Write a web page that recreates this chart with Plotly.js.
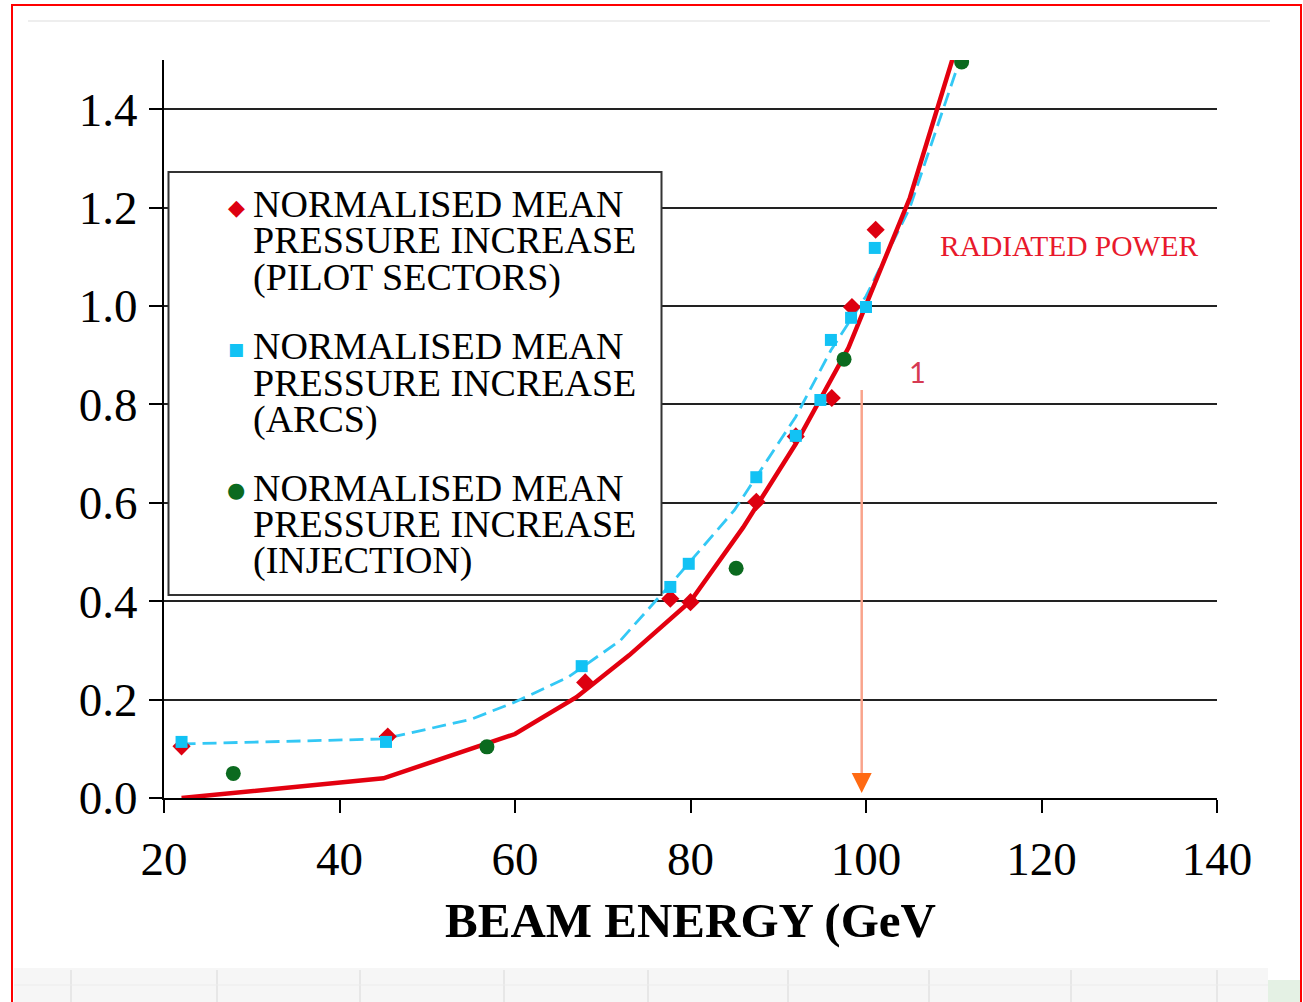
<!DOCTYPE html>
<html>
<head>
<meta charset="utf-8">
<script src="https://cdn.plot.ly/plotly-3.0.1.min.js"></script>
<style>
html,body{margin:0;padding:0;background:#fff;}
#chart{width:1303px;height:1002px;}
</style>
</head>
<body>
<div id="chart"></div>
<script>
// ---------- data ----------
const energyPilot = [22, 45.5, 68, 77.7, 80, 87.5, 92, 96.1, 98.4, 101.1];
const pressPilot  = [0.105, 0.125, 0.235, 0.405, 0.398, 0.602, 0.735, 0.813, 0.998, 1.155];

const energyArcs = [22, 45.3, 67.6, 77.7, 79.8, 87.5, 92, 94.8, 96, 98.3, 100, 101];
const pressArcs  = [0.114, 0.114, 0.268, 0.429, 0.476, 0.652, 0.736, 0.809, 0.931, 0.976, 0.998, 1.118];

const energyInj = [27.9, 56.8, 85.2, 97.5, 110.9];
const pressInj  = [0.05, 0.104, 0.467, 0.892, 1.496];

const energyRad = [22, 45, 60, 67, 73, 80, 86, 92, 98, 105, 110];
const powerRad  = [0.0, 0.04, 0.13, 0.205, 0.29, 0.40, 0.55, 0.72, 0.915, 1.22, 1.51];

const energyFit = [22, 45, 55, 60, 66, 72, 78, 85, 92, 96, 100, 105, 110.5];
const pressFit  = [0.11, 0.12, 0.16, 0.195, 0.245, 0.32, 0.44, 0.585, 0.775, 0.91, 1.02, 1.2, 1.49];

const xTicks = [20, 40, 60, 80, 100, 120, 140];
const xTickLabels = ['20', '40', '60', '80', '100', '120', '140'];
const yTicks = [0, 0.2, 0.4, 0.6, 0.8, 1.0, 1.2, 1.4];
const yTickLabels = ['0.0', '0.2', '0.4', '0.6', '0.8', '1.0', '1.2', '1.4'];

const legendLabels = [
  ['NORMALISED MEAN', 'PRESSURE INCREASE', '(PILOT SECTORS)'],
  ['NORMALISED MEAN', 'PRESSURE INCREASE', '(ARCS)'],
  ['NORMALISED MEAN', 'PRESSURE INCREASE', '(INJECTION)']
];
const radiatedLabel = 'RADIATED POWER';
const xTitle = 'BEAM ENERGY (GeV';

// ---------- layout helpers (pixel -> paper) ----------
const W = 1303, H = 1002;
const L = 164, R = 86, T = 60, B = 204;
const PW = W - L - R, PH = H - T - B;
const px = x => (x - L) / PW;
const py = y => (H - B - y) / PH;

const SERIF = 'Liberation Serif, Times New Roman, serif';

const RED = '#e3000f';
const CYAN = '#12c2f4';
const GREEN = '#0b6a1f';

const traces = [
  {x: energyFit, y: pressFit, mode: 'lines', name: 'fit (arcs)',
   line: {color: '#33c8f5', width: 2.8, dash: '14px,7px'}, hoverinfo: 'skip'},
  {x: energyRad, y: powerRad, mode: 'lines', name: radiatedLabel,
   line: {color: RED, width: 4.5}},
  {x: energyPilot, y: pressPilot, mode: 'markers', name: legendLabels[0].join(' '),
   marker: {symbol: 'diamond', size: 14, color: '#dd0010'}},
  {x: energyArcs, y: pressArcs, mode: 'markers', name: legendLabels[1].join(' '),
   marker: {symbol: 'square', size: 12, color: CYAN}},
  {x: energyInj, y: pressInj, mode: 'markers', name: legendLabels[2].join(' '),
   marker: {symbol: 'circle', size: 15, color: GREEN}}
];

// manual legend
const legendBox = {x0: 168.5, x1: 661.5, y0: 172, y1: 595};
const legendLineCenters = [[204, 240.5, 277], [346, 382.5, 419], [487.5, 524, 560.5]];
const legendMarkers = [
  {glyph: '◆', color: '#dd0010', size: 22, y: 207.5},
  {glyph: '■', color: CYAN, size: 17, y: 349},
  {glyph: '●', color: GREEN, size: 21, y: 490}
];

const annotations = [];
legendLabels.forEach((lines, i) => {
  lines.forEach((t, j) => {
    annotations.push({
      xref: 'paper', yref: 'paper', x: px(251), y: py(legendLineCenters[i][j]),
      xanchor: 'left', yanchor: 'middle', showarrow: false, text: t,
      font: {family: SERIF, size: 38, color: '#000'}
    });
  });
  const m = legendMarkers[i];
  annotations.push({
    xref: 'paper', yref: 'paper', x: px(236), y: py(m.y),
    xanchor: 'center', yanchor: 'middle', showarrow: false, text: m.glyph,
    font: {family: 'DejaVu Sans', size: m.size, color: m.color}
  });
});

annotations.push({
  xref: 'paper', yref: 'paper', x: px(1069), y: py(246), xanchor: 'center', yanchor: 'middle',
  showarrow: false, text: radiatedLabel, font: {family: SERIF, size: 29.5, color: '#e8192c'}
});
annotations.push({
  xref: 'paper', yref: 'paper', x: px(917), y: py(371), xanchor: 'center', yanchor: 'middle',
  showarrow: false, text: '1', font: {family: 'Lato, Liberation Sans, sans-serif', size: 29, color: '#d63a52'}
});
// arrow head
annotations.push({
  xref: 'paper', yref: 'paper', x: px(861.7), y: py(793), showarrow: true,
  ax: 0, ay: -14, text: '', arrowhead: 2, arrowsize: 1.6, arrowwidth: 2.5,
  arrowcolor: '#ff6a13', font: {size: 1}
});

const shapes = [
  // outer red frame
  {type: 'rect', xref: 'paper', yref: 'paper', x0: px(12), x1: px(1301), y0: py(1010), y1: py(5),
   line: {color: '#ff0000', width: 2}, fillcolor: 'rgba(0,0,0,0)', layer: 'below'},
  // faint screenshot residue at top
  {type: 'line', xref: 'paper', yref: 'paper', x0: px(28), x1: px(1270), y0: py(21), y1: py(21),
   line: {color: '#eeeeee', width: 2}, layer: 'below'},
  // faint spreadsheet band at bottom
  {type: 'rect', xref: 'paper', yref: 'paper', x0: px(14), x1: px(1268), y0: py(1002), y1: py(968),
   line: {width: 0}, fillcolor: '#f6f6f6', layer: 'below'},
  {type: 'rect', xref: 'paper', yref: 'paper', x0: px(1268), x1: px(1300), y0: py(1002), y1: py(980),
   line: {width: 0}, fillcolor: '#e4f1e4', layer: 'below'},
  // arrow shaft
  {type: 'line', xref: 'paper', yref: 'paper', x0: px(861.7), x1: px(861.7), y0: py(390), y1: py(782),
   line: {color: '#f9a48c', width: 2.5}, layer: 'above'},
  // legend box
  {type: 'rect', xref: 'paper', yref: 'paper', x0: px(legendBox.x0), x1: px(legendBox.x1),
   y0: py(legendBox.y1), y1: py(legendBox.y0), line: {color: '#333', width: 2}, fillcolor: '#fff', layer: 'above'}
];
[71, 217, 360, 504, 648, 788, 929, 1071, 1217].forEach(xv => {
  shapes.push({type: 'line', xref: 'paper', yref: 'paper', x0: px(xv), x1: px(xv), y0: py(1002), y1: py(970),
    line: {color: '#e2e2e2', width: 1.5}, layer: 'below'});
});
shapes.push({type: 'line', xref: 'paper', yref: 'paper', x0: px(14), x1: px(1268), y0: py(985), y1: py(985),
  line: {color: '#ececec', width: 1}, layer: 'below'});

const layout = {
  width: W, height: H,
  margin: {l: L, r: R, t: T, b: B, pad: 0},
  paper_bgcolor: '#fff', plot_bgcolor: '#fff',
  showlegend: false,
  xaxis: {
    range: [20, 140], tickvals: xTicks, ticktext: xTickLabels,
    showline: true, linecolor: '#000', linewidth: 2, mirror: false,
    ticks: 'outside', ticklen: 13, tickwidth: 2, tickcolor: '#000',
    showgrid: false, zeroline: false, ticklabelstandoff: 6,
    tickfont: {family: SERIF, size: 47, color: '#000'},
    title: {text: '<b>' + xTitle + '</b>', font: {family: SERIF, size: 49, color: '#000'}, standoff: 18}
  },
  yaxis: {
    range: [0, 1.5], tickvals: yTicks, ticktext: yTickLabels,
    showline: true, linecolor: '#000', linewidth: 2,
    ticks: 'outside', ticklen: 13, tickwidth: 2, tickcolor: '#000',
    showgrid: true, gridcolor: '#222', gridwidth: 2, zeroline: false,
    ticklabelstandoff: 2,
    tickfont: {family: SERIF, size: 47, color: '#000'}
  },
  shapes: shapes,
  annotations: annotations
};

Plotly.newPlot('chart', traces, layout, {displayModeBar: false, staticPlot: true});
</script>
</body>
</html>
